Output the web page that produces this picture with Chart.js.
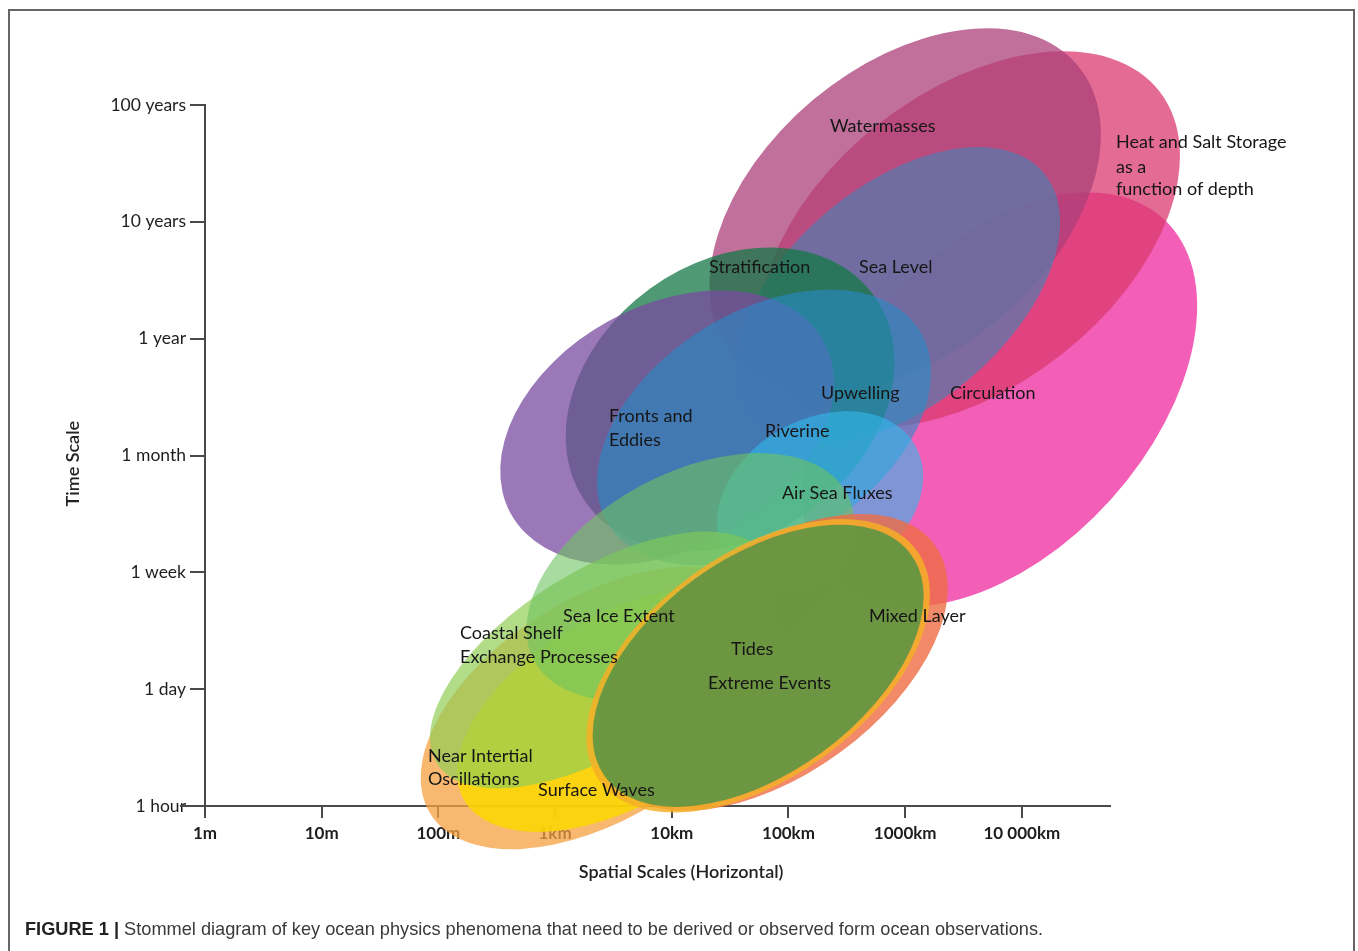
<!DOCTYPE html>
<html>
<head>
<meta charset="utf-8">
<title>Stommel diagram</title>
<script src="https://cdn.jsdelivr.net/npm/chart.js@4.4.1/dist/chart.umd.min.js"></script>
<style>
  html, body { margin: 0; padding: 0; background: #fff; }
  #wrap { position: relative; width: 1358px; height: 951px; overflow: hidden; }
  #frame { position: absolute; left: 8px; top: 9px; width: 1347px; height: 980px; border: 2px solid #666; border-bottom: none; box-sizing: border-box; }
  #chart { position: absolute; left: 0; top: 0; }
  #cap { position: absolute; left: 25px; top: 919px; font: 18.2px 'Liberation Sans', Arial, sans-serif; color: #3a3a3a; white-space: nowrap; }
  #cap b { color: #222; }
</style>
</head>
<body>
<div id="wrap">
  <div id="frame"></div>
  <canvas id="chart" width="1358" height="951"></canvas>
  <div id="cap"><b>FIGURE 1 |</b> Stommel diagram of key ocean physics phenomena that need to be derived or observed form ocean observations.</div>
</div>
<script>
// axes: x = log10(horizontal scale in m), y = time step index (1 hour .. 100 years)
const xTickVals = [0, 1, 2, 3, 4, 5, 6, 7];
const xTickLabels = ['1m', '10m', '100m', '1km', '10km', '100km', '1000km', '10 000km'];
const yTickVals = [0, 1, 2, 3, 4, 5, 6];
const yTickLabels = ['1 hour', '1 day', '1 week', '1 month', '1 year', '10 years', '100 years'];

// phenomena, back to front: centre, semi-axes (axis units), tilt (deg)
const phenomena = ['Circulation', 'Heat and Salt Storage', 'Watermasses', 'Sea Level', 'Stratification',
  'Fronts and Eddies', 'Upwelling', 'Air Sea Fluxes', 'Near Intertial Oscillations', 'Surface Waves',
  'Coastal Shelf', 'Sea Ice Extent', 'Mixed Layer', 'Tides', 'Extreme Events'];
const centerX = [6.81, 6.555, 6.00, 5.94, 4.50, 3.96, 4.79, 5.27, 3.385, 3.556, 3.402, 4.16, 4.87, 4.74, 4.74];
const centerY = [3.48, 4.85, 5.10, 4.37, 3.48, 3.24, 3.24, 2.62, 0.839, 0.822, 1.25, 1.96, 1.23, 1.20, 1.20];
const semiMajor = [2.09, 2.06, 1.93, 1.63, 1.52, 1.53, 1.57, 0.94, 1.713, 1.542, 1.67, 1.52, 1.71, 1.68, 1.62];
const semiMinor = [1.28, 1.26, 1.23, 0.94, 1.17, 1.04, 0.99, 0.69, 0.942, 0.814, 0.771, 0.89, 0.96, 0.96, 0.92];
const tilt = [48, 38, 40, 40, 36, 29, 32, 30, 32, 30, 32, 28, 36, 36, 36];

// text labels placed in axis units (left edge, middle of line)
const labelText = ['Watermasses', 'Heat and Salt Storage', 'as a', 'function of depth', 'Stratification', 'Sea Level',
  'Upwelling', 'Circulation', 'Fronts and', 'Eddies', 'Riverine', 'Air Sea Fluxes', 'Sea Ice Extent', 'Mixed Layer',
  'Coastal Shelf', 'Exchange Processes', 'Tides', 'Extreme Events', 'Near Intertial', 'Oscillations', 'Surface Waves'];
const labelX = [5.355, 7.806, 7.806, 7.806, 4.319, 5.604, 5.278, 6.384, 3.461, 3.461, 4.799, 4.944, 3.067, 5.689,
  2.185, 2.185, 4.507, 4.310, 1.911, 1.911, 2.854];
const labelY = [5.822, 5.685, 5.471, 5.283, 4.615, 4.615, 3.536, 3.536, 3.339, 3.134, 3.211, 2.680, 1.627, 1.627,
  1.481, 1.276, 1.344, 1.053, 0.428, 0.231, 0.137];

const fills = ['rgba(239,42,157,0.75)', 'rgba(219,59,112,0.75)', 'rgba(171,64,120,0.75)', 'rgba(87,124,173,0.72)',
  'rgba(20,120,71,0.75)', 'rgba(122,75,160,0.75)', 'rgba(40,140,200,0.6)', 'rgba(50,185,235,0.6)',
  'rgba(246,160,64,0.75)', 'rgba(252,216,0,0.85)', 'rgba(145,205,85,0.7)', 'rgba(110,195,95,0.6)',
  'rgba(239,109,69,0.8)', 'rgba(245,175,40,0.85)', 'rgba(70,145,70,0.78)'];

const LABEL_FONT = "18px Lato, 'Open Sans', sans-serif";
const AXIS_COLOR = '#4a4a4a';

const ellipsePlugin = {
  id: 'stommel',
  afterDatasetsDraw(chart) {
    const { ctx, scales: { x, y } } = chart;
    const ux = Math.abs(x.getPixelForValue(1) - x.getPixelForValue(0));
    const uy = Math.abs(y.getPixelForValue(1) - y.getPixelForValue(0));
    ctx.save();
    phenomena.forEach((name, i) => {
      ctx.beginPath();
      ctx.ellipse(x.getPixelForValue(centerX[i]), y.getPixelForValue(centerY[i]),
        semiMajor[i] * ux, semiMinor[i] * uy, -tilt[i] * Math.PI / 180, 0, Math.PI * 2);
      ctx.fillStyle = fills[i];
      ctx.fill();
    });

    ctx.fillStyle = '#161616';
    ctx.font = LABEL_FONT;
    ctx.textAlign = 'left';
    ctx.textBaseline = 'middle';
    labelText.forEach((t, i) => ctx.fillText(t, x.getPixelForValue(labelX[i]), y.getPixelForValue(labelY[i])));

    // little run of the x axis left of the origin, through "1 hour"
    const y0 = y.getPixelForValue(0);
    ctx.strokeStyle = AXIS_COLOR; ctx.lineWidth = 2;
    ctx.beginPath(); ctx.moveTo(x.getPixelForValue(-0.215), y0); ctx.lineTo(chart.chartArea.left, y0); ctx.stroke();

    // axis titles
    ctx.font = "600 18px Lato, 'Open Sans', sans-serif";
    ctx.fillStyle = '#222';
    ctx.textAlign = 'center';
    ctx.fillText('Spatial Scales (Horizontal)', x.getPixelForValue(4.08), 872);
    ctx.translate(73, y.getPixelForValue(2.93));
    ctx.rotate(-Math.PI / 2);
    ctx.fillText('Time Scale', 0, 0);
    ctx.restore();
  },
};

new Chart(document.getElementById('chart').getContext('2d'), {
  type: 'scatter',
  data: {
    datasets: [{
      label: 'phenomena',
      data: phenomena.map((n, i) => ({ x: centerX[i], y: centerY[i] })),
      pointRadius: 0, pointHoverRadius: 0,
    }],
  },
  options: {
    responsive: false, animation: false, devicePixelRatio: 1,
    layout: { padding: { top: 105, right: 248, bottom: 0, left: 0 } },
    plugins: { legend: { display: false }, tooltip: { enabled: false } },
    events: [],
    scales: {
      x: {
        type: 'linear', min: 0, max: 7.755,
        afterBuildTicks: (s) => { s.ticks = xTickVals.map(v => ({ value: v })); },
        afterFit: (s) => { s.height = 145; },
        grid: { drawOnChartArea: false, drawTicks: true, tickLength: 12, color: AXIS_COLOR, lineWidth: 2 },
        border: { display: true, color: AXIS_COLOR, width: 2 },
        ticks: { callback: (v, i) => xTickLabels[i], autoSkip: false, maxRotation: 0, padding: 5,
          color: '#1e1e1e', font: { family: 'Lato', size: 17, weight: 'bold' } },
      },
      y: {
        type: 'linear', min: 0, max: 6,
        afterBuildTicks: (s) => { s.ticks = yTickVals.map(v => ({ value: v })); },
        afterFit: (s) => { s.width = 205; },
        grid: { drawOnChartArea: false, drawTicks: true, tickLength: 15, color: AXIS_COLOR, lineWidth: 2 },
        border: { display: true, color: AXIS_COLOR, width: 2 },
        ticks: { callback: (v, i) => yTickLabels[i], autoSkip: false, padding: 4,
          color: '#1e1e1e', font: { family: 'Lato', size: 17.5 } },
      },
    },
  },
  plugins: [ellipsePlugin],
});
</script>
</body>
</html>
